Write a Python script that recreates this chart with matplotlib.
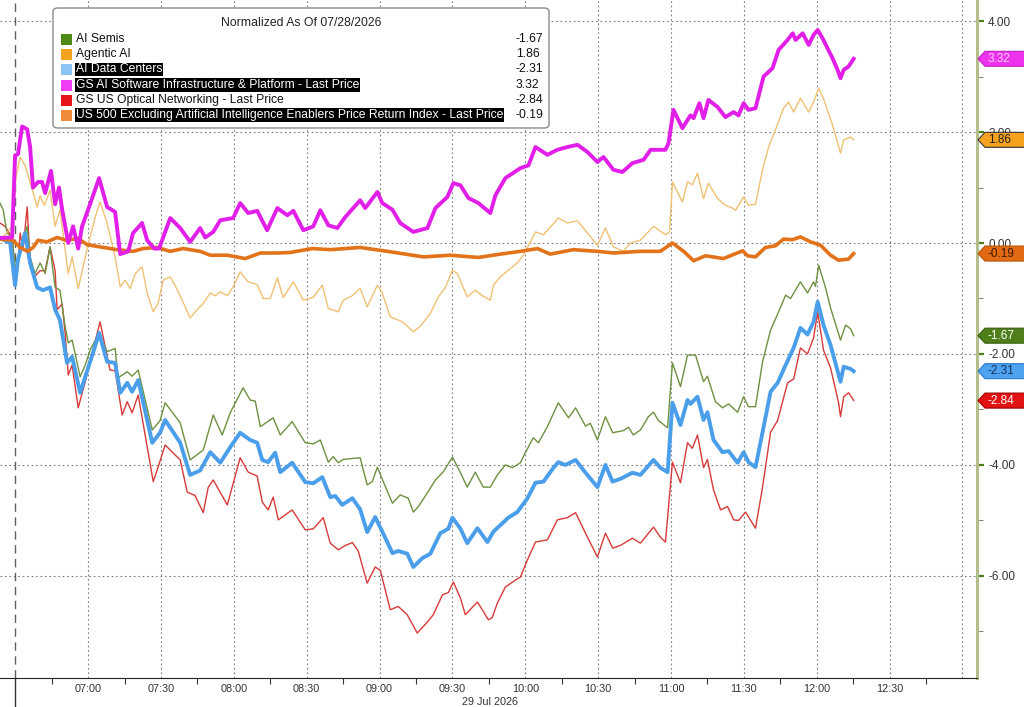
import matplotlib
matplotlib.use('Agg')
import matplotlib.pyplot as plt
import matplotlib.transforms as mtransforms
from matplotlib.patches import Polygon, FancyBboxPatch, Rectangle
from matplotlib.lines import Line2D

plt.rcParams['font.family'] = ['Liberation Sans', 'DejaVu Sans']

# (minutes after 06:00 on 29 Jul 2026, normalized value vs 07/28 close)
gs_software = [
    (23.7, 0.09), (28.7, 0.10), (29.9, 1.58), (31.1, 1.60), (32.8, 2.10), (34.9, 2.05), (36.1, 1.73),
    (37.3, 1.00), (39.4, 1.10), (41.0, 1.10), (42.3, 0.90), (44.7, 1.30), (46.4, 0.70), (48.0, 1.00),
    (49.3, 0.60), (51.8, 0.00), (53.8, 0.30), (55.9, -0.10), (57.5, 0.30), (60.8, 0.70), (64.5, 1.17),
    (67.8, 0.65), (71.1, 0.56), (73.2, -0.20), (76.5, -0.15), (78.5, 0.18), (82.2, 0.36), (84.3, 0.05),
    (87.2, -0.10), (89.2, -0.10), (93.8, 0.45), (97.9, 0.27), (102.0, 0.02), (106.1, 0.27), (108.2, 0.10),
    (111.5, 0.20), (114.4, 0.41), (119.7, 0.45), (122.6, 0.72), (125.9, 0.54), (129.6, 0.58), (133.7, 0.23),
    (137.9, 0.63), (142.0, 0.50), (144.5, 0.58), (148.6, 0.23), (152.7, 0.30), (155.6, 0.59), (158.9, 0.32),
    (162.6, 0.27), (165.9, 0.47), (172.0, 0.77), (174.1, 0.63), (179.1, 0.92), (181.1, 0.72), (185.3, 0.60),
    (188.5, 0.36), (193.9, 0.20), (199.7, 0.27), (203.0, 0.63), (207.9, 0.83), (210.4, 1.08), (213.3, 1.04),
    (216.6, 0.81), (220.7, 0.72), (225.6, 0.54), (227.7, 0.86), (231.8, 1.17), (238.0, 1.35), (241.3, 1.40),
    (244.2, 1.73), (249.1, 1.59), (253.2, 1.68), (257.3, 1.73), (261.5, 1.77), (265.6, 1.64), (269.7, 1.46),
    (272.2, 1.55), (276.3, 1.32), (280.0, 1.28), (284.1, 1.44), (288.7, 1.50), (291.6, 1.68), (297.7, 1.68),
    (299.0, 1.80), (301.0, 2.40), (304.7, 2.07), (308.0, 2.30), (309.3, 2.25), (311.7, 2.52), (313.4, 2.25),
    (315.4, 2.58), (319.2, 2.45), (322.4, 2.27), (325.8, 2.36), (327.8, 2.30), (329.9, 2.52), (331.9, 2.40),
    (334.8, 2.43), (338.1, 3.00), (341.8, 3.15), (344.3, 3.48), (348.0, 3.66), (350.1, 3.78), (351.3, 3.66),
    (354.2, 3.78), (356.7, 3.57), (358.7, 3.75), (360.4, 3.84), (362.4, 3.69), (366.5, 3.33), (368.6, 3.12),
    (369.8, 2.97), (371.1, 3.12), (373.1, 3.18), (375.2, 3.32),
]

us500_ex_ai = [
    (23.7, 0.07), (29.0, 0.05), (32.0, -0.08), (35.0, -0.15), (37.3, -0.08), (39.4, 0.05), (43.0, 0.02),
    (47.2, 0.10), (51.0, 0.05), (55.9, 0.08), (59.6, -0.03), (64.9, -0.07), (71.9, -0.12), (78.5, -0.15),
    (82.6, -0.10), (88.4, -0.08), (93.8, -0.15), (99.1, -0.10), (106.1, -0.15), (110.3, -0.22), (117.3, -0.22),
    (124.7, -0.28), (130.9, -0.18), (137.9, -0.18), (143.2, -0.17), (152.3, -0.10), (159.7, -0.12), (172.0, -0.08),
    (183.2, -0.15), (198.0, -0.25), (209.1, -0.22), (220.7, -0.26), (229.7, -0.20), (238.0, -0.15), (245.0, -0.10),
    (250.3, -0.20), (259.8, -0.12), (269.7, -0.15), (276.3, -0.18), (287.4, -0.15), (295.6, -0.15), (300.6, 0.00),
    (305.2, -0.15), (309.3, -0.32), (314.2, -0.23), (321.6, -0.28), (329.5, -0.14), (331.5, -0.23), (334.8, -0.25),
    (338.9, -0.08), (343.0, -0.05), (346.3, 0.07), (350.0, 0.06), (353.3, 0.11), (357.5, 0.02), (361.6, -0.04),
    (365.7, -0.22), (369.0, -0.31), (373.1, -0.29), (375.2, -0.19),
]

agentic_ai = [
    (23.7, 0.05), (28.7, 0.30), (30.3, 1.20), (32.0, 1.55), (34.0, 1.40), (37.3, 0.92), (39.0, 0.65),
    (40.2, 0.85), (42.0, 0.68), (44.3, 0.95), (46.4, 0.30), (48.4, 0.60), (51.8, -0.55), (53.4, -0.25),
    (55.9, -0.82), (59.6, -0.10), (62.9, 0.47), (64.9, 0.74), (67.8, 0.36), (71.1, -0.25), (73.2, -0.79),
    (75.2, -0.67), (77.3, -0.82), (79.4, -0.55), (82.2, -0.43), (84.3, -0.90), (86.8, -1.24), (88.8, -1.09),
    (90.9, -0.67), (93.8, -0.61), (96.2, -0.80), (98.7, -1.03), (102.0, -1.35), (104.9, -1.20), (107.4, -1.09),
    (110.3, -0.90), (112.3, -0.95), (114.4, -0.88), (117.3, -0.95), (119.7, -0.79), (122.6, -0.52), (125.9, -0.70),
    (129.6, -0.75), (132.1, -1.00), (135.0, -1.00), (137.9, -0.63), (140.3, -0.98), (144.5, -0.70), (148.6, -1.03),
    (152.7, -0.98), (156.4, -0.76), (158.9, -1.18), (163.0, -1.24), (165.0, -1.03), (168.8, -0.95), (172.0, -0.82),
    (174.9, -1.15), (179.1, -0.76), (181.1, -0.90), (184.4, -1.33), (189.4, -1.42), (193.9, -1.60), (196.8, -1.50),
    (200.9, -1.27), (204.2, -0.97), (207.1, -0.80), (210.0, -0.49), (212.0, -0.55), (216.1, -0.97), (219.4, -0.85),
    (222.3, -0.95), (225.6, -1.03), (226.9, -0.76), (229.7, -0.61), (233.0, -0.49), (236.7, -0.36), (239.2, -0.22),
    (242.1, 0.02), (244.2, 0.20), (247.5, 0.15), (253.6, 0.45), (257.3, 0.36), (261.5, 0.40), (265.6, 0.18),
    (269.7, -0.04), (273.0, 0.27), (276.3, -0.07), (280.4, -0.15), (283.3, 0.00), (287.4, 0.05), (292.8, 0.30),
    (297.7, 0.15), (299.4, 0.20), (300.6, 1.10), (304.7, 0.74), (306.8, 1.10), (308.8, 1.05), (310.9, 1.26),
    (313.4, 0.80), (315.4, 1.08), (319.2, 0.80), (322.4, 0.68), (325.3, 0.63), (326.6, 0.59), (329.9, 0.83),
    (331.9, 0.68), (334.8, 0.70), (337.7, 1.32), (340.2, 1.73), (343.0, 2.04), (346.3, 2.43), (348.4, 2.54),
    (350.5, 2.36), (353.3, 2.61), (356.7, 2.36), (358.7, 2.54), (360.8, 2.79), (362.8, 2.60), (366.5, 2.13),
    (369.8, 1.62), (371.1, 1.86), (374.0, 1.91), (375.2, 1.86),
]

ai_semis = [
    (23.7, 0.72), (25.0, 0.60), (26.6, 0.18), (28.7, 0.10), (29.9, -0.43), (31.1, -0.30), (32.8, 0.00),
    (34.9, 0.30), (36.1, -0.25), (38.1, -0.55), (40.2, -0.36), (42.3, -0.55), (44.3, -0.07), (46.4, -0.80),
    (48.4, -0.85), (50.5, -1.50), (51.8, -1.80), (53.4, -1.75), (56.7, -2.41), (58.8, -2.20), (60.8, -1.93),
    (64.5, -1.62), (67.8, -1.96), (71.1, -1.90), (72.3, -2.43), (76.1, -2.32), (78.1, -2.40), (80.6, -2.29),
    (86.4, -3.37), (89.6, -3.20), (91.7, -2.88), (97.9, -3.24), (102.0, -3.91), (107.4, -3.73), (111.5, -3.10),
    (115.2, -3.46), (118.5, -3.06), (123.8, -2.61), (126.7, -2.83), (128.8, -2.85), (130.9, -3.31), (136.2, -3.15),
    (139.1, -3.46), (144.0, -3.22), (149.4, -3.60), (152.7, -3.62), (155.6, -3.55), (158.9, -3.95), (160.9, -3.85),
    (163.0, -3.96), (165.0, -3.90), (172.0, -3.87), (174.9, -4.36), (177.0, -4.30), (179.1, -4.04), (181.5, -4.30),
    (185.3, -4.69), (188.5, -4.54), (191.8, -4.60), (193.9, -4.85), (196.0, -4.75), (199.7, -4.50), (203.0, -4.27),
    (206.3, -4.12), (210.0, -3.86), (213.3, -4.14), (216.1, -4.40), (219.4, -4.13), (222.7, -4.40), (225.6, -4.40),
    (228.5, -4.18), (231.8, -4.00), (234.7, -4.05), (238.0, -3.96), (240.0, -3.78), (243.3, -3.51), (245.4, -3.60),
    (249.1, -3.31), (253.6, -2.88), (257.8, -3.15), (260.7, -2.97), (264.8, -3.30), (266.8, -3.25), (269.7, -3.55),
    (273.0, -3.13), (276.0, -3.42), (280.4, -3.38), (282.5, -3.32), (284.5, -3.46), (287.4, -3.37), (290.7, -3.13),
    (292.8, -3.05), (294.8, -3.20), (298.6, -3.33), (300.6, -2.16), (303.9, -2.59), (306.8, -2.02), (310.1, -2.02),
    (313.4, -2.50), (315.0, -2.40), (318.3, -2.86), (321.2, -2.97), (323.7, -2.90), (327.4, -3.05), (329.9, -2.77),
    (331.9, -2.95), (334.8, -2.95), (337.7, -2.14), (341.0, -1.57), (344.3, -1.24), (347.2, -0.94), (349.2, -1.00),
    (353.3, -0.70), (356.2, -0.90), (358.7, -0.70), (359.5, -0.78), (360.8, -0.40), (363.6, -0.80), (365.7, -1.17),
    (369.8, -1.75), (371.9, -1.48), (374.0, -1.55), (375.2, -1.67),
]

ai_data_centers = [
    (23.7, 0.09), (27.9, 0.00), (29.9, -0.76), (31.1, -0.30), (34.0, 0.18), (36.1, -0.36), (39.0, -0.80),
    (41.4, -0.85), (44.3, -0.80), (46.4, -1.20), (48.4, -1.39), (51.3, -2.16), (53.4, -2.05), (56.7, -2.70),
    (58.8, -2.41), (62.0, -1.98), (64.5, -1.62), (67.8, -2.14), (71.1, -2.16), (73.2, -2.70), (76.1, -2.52),
    (78.1, -2.68), (80.6, -2.47), (86.4, -3.60), (89.6, -3.42), (91.7, -3.19), (97.9, -3.60), (102.0, -4.18),
    (106.1, -4.10), (110.3, -3.77), (114.4, -3.96), (118.5, -3.68), (122.6, -3.42), (126.7, -3.55), (129.6, -3.60),
    (131.7, -3.91), (134.1, -3.95), (137.0, -3.78), (139.1, -4.13), (144.0, -3.96), (149.4, -4.31), (152.7, -4.33),
    (156.4, -4.22), (159.7, -4.58), (161.8, -4.56), (164.6, -4.72), (168.8, -4.60), (172.0, -4.80), (174.9, -5.21),
    (178.2, -4.94), (181.1, -5.20), (185.3, -5.59), (187.7, -5.55), (191.4, -5.60), (193.9, -5.84), (197.6, -5.68),
    (200.9, -5.60), (205.0, -5.23), (208.3, -5.15), (210.0, -4.95), (213.3, -5.15), (216.1, -5.41), (220.3, -5.14),
    (224.4, -5.39), (226.9, -5.20), (230.6, -5.05), (233.0, -4.95), (236.7, -4.85), (240.9, -4.60), (244.2, -4.32),
    (247.5, -4.30), (251.6, -4.05), (253.6, -3.95), (256.5, -4.00), (260.7, -3.91), (264.8, -4.14), (269.7, -4.40),
    (273.0, -4.00), (275.9, -4.30), (279.2, -4.25), (284.1, -4.14), (287.4, -4.18), (292.8, -3.91), (295.6, -4.05),
    (298.6, -4.13), (300.6, -2.88), (303.9, -3.28), (306.8, -2.83), (308.0, -2.90), (310.9, -2.77), (313.4, -3.19),
    (315.0, -3.05), (317.5, -3.55), (321.2, -3.77), (323.7, -3.75), (327.4, -3.96), (329.9, -3.77), (331.9, -3.95),
    (334.8, -4.04), (337.7, -3.41), (341.0, -2.68), (343.9, -2.52), (347.2, -2.20), (350.5, -1.89), (353.3, -1.53),
    (356.2, -1.65), (358.7, -1.42), (360.4, -1.06), (362.8, -1.48), (365.7, -1.84), (369.8, -2.50), (371.1, -2.23),
    (374.0, -2.27), (375.2, -2.31),
]

optical_net = [
    (23.7, 0.36), (25.8, 0.30), (28.7, 0.10), (29.9, -0.50), (31.1, -0.40), (32.0, 0.18), (33.2, -0.10),
    (34.9, 0.65), (36.1, -0.40), (38.1, -0.60), (40.2, -0.50), (42.3, -0.50), (44.3, -0.07), (46.4, -0.50),
    (47.2, -1.20), (49.3, -1.10), (50.5, -1.62), (51.8, -2.38), (53.4, -2.20), (55.9, -2.97), (58.8, -2.50),
    (61.6, -2.00), (64.9, -1.42), (69.0, -2.29), (71.1, -2.30), (74.0, -3.10), (76.1, -2.86), (78.1, -3.06),
    (80.6, -2.74), (86.8, -4.30), (88.8, -4.04), (91.7, -3.64), (97.9, -3.91), (100.8, -4.49), (104.0, -4.55),
    (107.4, -4.86), (109.4, -4.41), (111.5, -4.27), (117.3, -4.72), (122.6, -3.87), (125.9, -4.13), (129.6, -4.20),
    (131.7, -4.67), (134.1, -4.81), (136.2, -4.58), (138.3, -4.99), (144.0, -4.81), (149.4, -5.17), (152.7, -5.15),
    (156.8, -4.95), (159.7, -5.41), (163.0, -5.53), (165.9, -5.45), (168.8, -5.40), (171.2, -5.55), (174.9, -6.13),
    (178.2, -5.84), (180.3, -5.90), (184.4, -6.61), (187.7, -6.55), (191.4, -6.70), (195.5, -7.03), (199.7, -6.83),
    (202.1, -6.70), (205.9, -6.34), (208.3, -6.30), (210.4, -6.11), (213.3, -6.40), (215.3, -6.70), (220.3, -6.47),
    (224.8, -6.79), (226.4, -6.75), (228.5, -6.49), (231.8, -6.20), (235.1, -6.10), (238.0, -6.02), (240.9, -5.71),
    (244.2, -5.39), (249.1, -5.35), (253.2, -4.99), (257.3, -4.95), (260.7, -4.86), (264.8, -5.23), (269.7, -5.66),
    (273.0, -5.23), (276.0, -5.50), (279.2, -5.45), (284.1, -5.32), (287.4, -5.41), (292.8, -5.12), (295.6, -5.30),
    (297.7, -5.39), (300.6, -3.95), (303.9, -4.32), (306.8, -3.60), (308.8, -3.70), (310.9, -3.46), (313.4, -4.05),
    (315.0, -3.90), (317.5, -4.45), (320.4, -4.81), (323.3, -4.75), (325.8, -4.99), (327.8, -5.00), (330.7, -4.85),
    (334.8, -5.14), (337.7, -4.40), (341.0, -3.41), (343.9, -3.20), (348.0, -2.52), (350.5, -2.45), (353.3, -1.89),
    (356.2, -2.00), (358.7, -1.71), (360.4, -1.24), (362.8, -1.93), (365.7, -2.25), (369.0, -2.88), (369.8, -3.13),
    (371.1, -2.77), (373.1, -2.70), (374.7, -2.80), (375.2, -2.84),
]

legend_labels = [
    "AI Semis",
    "Agentic AI",
    "AI Data Centers",
    "GS AI Software Infrastructure & Platform - Last Price",
    "GS US Optical Networking - Last Price",
    "US 500 Excluding Artificial Intelligence Enablers Price Return Index - Last Price",
]
last_values = [-1.67, 1.86, -2.31, 3.32, -2.84, -0.19]
highlighted = [False, False, True, True, False, True]
legend_colors = ['#4f8a17', '#f5a31f', '#8ec4f4', '#f03ef4', '#e8141c', '#f28a3c']

y_ticks = [-6, -4, -2, 0, 2, 4]
x_ticks = list(range(60, 421, 30))


def hhmm(m):
    return f"{6 + int(m) // 60:02d}:{int(m) % 60:02d}"


W, H = 1024, 707
fig = plt.figure(figsize=(W / 100, H / 100), dpi=100)
ax = fig.add_axes([0, 29 / H, 977 / W, 678 / H])
ymin, ymax = -7.84, 4.38
ax.set_xlim(23.7, 426)
ax.set_ylim(ymin, ymax)

series = [
    (optical_net, '#d83a3a', 1.0),
    (ai_semis, '#6e9140', 1.0),
    (ai_data_centers, '#4b9eea', 2.8),
    (agentic_ai, '#f0c173', 1.0),
    (us500_ex_ai, '#e2731b', 2.6),
    (gs_software, '#e11fe9', 2.8),
]
for data, color, lw in series:
    t, v = zip(*data)
    ax.plot(t, v, color=color, lw=lw, solid_joinstyle='round', zorder=3)

# grid and axes styling
ax.grid(True, which='major', color='#7d7d7d', linestyle=(0, (1.5, 2.5)), linewidth=0.8)
ax.axvline(30, color='#606060', lw=1.0, linestyle=(0, (6, 4)), zorder=2)
for s in ['top', 'left']:
    ax.spines[s].set_visible(False)
ax.spines['bottom'].set_color('#222222')
ax.spines['right'].set_color('#b3be8a')
ax.spines['right'].set_linewidth(2.2)

ax.yaxis.tick_right()
ax.set_yticks(y_ticks)
ax.set_yticklabels([f"{v:.2f}" for v in y_ticks])
ax.set_yticks(list(range(-7, 5, 2)), minor=True)
ax.tick_params(axis='y', which='major', length=5, width=1.6, color='#4f7f1a', pad=3,
               labelsize=8.5, labelcolor='#333333')
ax.tick_params(axis='y', which='minor', length=4, width=0.8, color='#888888')

ax.set_xticks(x_ticks)
ax.set_xticklabels([hhmm(m) if m < 420 else '' for m in x_ticks])
ax.set_xticks(list(range(45, 421, 30)), minor=True)
ax.tick_params(axis='x', which='major', length=0, pad=4, labelsize=7.8, labelcolor='#333333')
ax.tick_params(axis='x', which='minor', length=4, width=0.8, color='#333333')

fig.add_artist(Line2D([15.2 / W, 15.2 / W], [0, 29 / H], color='#333333', lw=1.0))
fig.text(490 / W, 1 - 702 / H, "29 Jul 2026", ha='center', va='center', fontsize=7.8, color='#333333')

# last value tags on the right axis
trans = mtransforms.blended_transform_factory(fig.transFigure, ax.transData)
hh = 7.5 * (ymax - ymin) / 678
tags = [
    (3.32, '#ee33ee', '#f6d0f6', '#c020c0'),
    (1.86, '#f7a21e', '#222222', '#333333'),
    (-0.19, '#e26a12', '#3a1a00', '#b85208'),
    (-1.67, '#4f7f1a', '#ffffff', '#345c0c'),
    (-2.31, '#4ea2f0', '#10305a', '#2a7ac8'),
    (-2.84, '#e31212', '#ffffff', '#a00000'),
]
for v, fc, tc, ec in tags:
    pts = [(978 / W, v), (985 / W, v + hh), (1.02, v + hh), (1.02, v - hh), (985 / W, v - hh)]
    ax.add_patch(Polygon(pts, closed=True, facecolor=fc, edgecolor=ec, lw=0.8,
                         transform=trans, clip_on=False, zorder=6))
    ax.text(988 / W, v, f"{v:.2f}", transform=trans, ha='left', va='center',
            fontsize=8.5, color=tc, zorder=7, clip_on=False)


# legend box (pixel geometry converted to figure fractions)
def fx(px):
    return px / W


def fy(py):
    return 1 - py / H


fig.add_artist(FancyBboxPatch((fx(53), fy(128)), fx(496), (128 - 8) / H,
                              boxstyle="round,pad=0,rounding_size=0.005",
                              facecolor='white', edgecolor='#8a8a8a', lw=1.0, zorder=5))
fig.text(fx(301), fy(23), "Normalized As Of 07/28/2026", ha='center', va='center',
         fontsize=8.8, color='#222222', zorder=6)
row_y = [39, 54, 69.5, 85, 100, 115]
for yc, lab, val, hl, col in zip(row_y, legend_labels, last_values, highlighted, legend_colors):
    fig.add_artist(Rectangle((fx(61), fy(yc + 5.5)), 11 / W, 11 / H, facecolor=col,
                             edgecolor='none', zorder=6))
    if hl:
        fig.text(fx(76), fy(yc), lab, ha='left', va='center', fontsize=8.7, color='white', zorder=7,
                 bbox=dict(facecolor='black', edgecolor='none', pad=0.6))
    else:
        fig.text(fx(76), fy(yc), lab, ha='left', va='center', fontsize=8.7, color='#111111', zorder=7)
    fig.text(fx(516), fy(yc), f"{val:.2f}", ha='left', va='center', fontsize=8.7,
             color='#111111', zorder=7)

fig.savefig('out.png', dpi=100)
